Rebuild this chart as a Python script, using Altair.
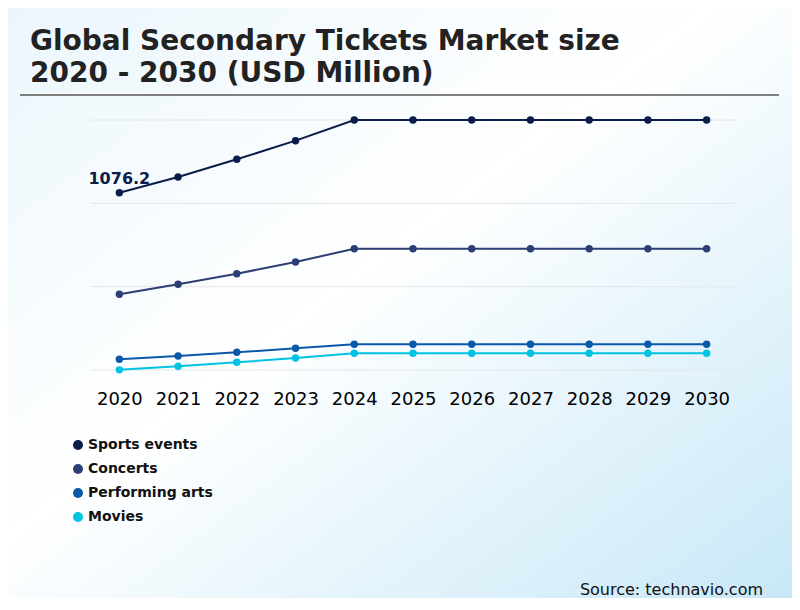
import altair as alt
import pandas as pd

# ---- data ----
years = ["2020", "2021", "2022", "2023", "2024", "2025", "2026", "2027", "2028", "2029", "2030"]
series_names = ["Sports events", "Concerts", "Performing arts", "Movies"]
sports = [1076.2, 1171.5, 1279.0, 1392.0, 1517.5, 1517.5, 1517.5, 1517.5, 1517.5, 1517.5, 1517.5]
concerts = [459.5, 520.0, 584.5, 655.6, 736.3, 736.3, 736.3, 736.3, 736.3, 736.3, 736.3]
performing = [65.0, 85.0, 107.4, 131.7, 156.0, 156.0, 156.0, 156.0, 156.0, 156.0, 156.0]
movies = [1.0, 22.5, 46.7, 72.8, 101.4, 101.4, 101.4, 101.4, 101.4, 101.4, 101.4]
series_colors = ["#0b1c48", "#2c3e73", "#0a58a8", "#00c3e3"]
grid_values = [0, 505.8, 1011.7, 1517.5]
title_lines = ["Global Secondary Tickets Market size", "2020 - 2030 (USD Million)"]
source_text = "Source: technavio.com"
first_label = "1076.2"

rows = []
for name, vals in zip(series_names, [sports, concerts, performing, movies]):
    for y, v in zip(years, vals):
        rows.append({"Year": y, "Segment": name, "Value": v})
df = pd.DataFrame(rows)
label_df = pd.DataFrame({"Year": [years[0]], "Value": [sports[0]], "Label": [first_label]})
grid_df = pd.DataFrame({"Value": grid_values})
one = pd.DataFrame({"a": [0]})

FONT = "DejaVu Sans"

x_enc = alt.X("Year:O", scale=alt.Scale(type="point", padding=0.5),
              axis=alt.Axis(title=None, labelAngle=0, labelFontSize=18, labelColor="#000000",
                            labelFont=FONT, ticks=False, domain=False, grid=False, labelPadding=20,
                            zindex=1))
y_scale = alt.Scale(domain=[0, 1517.5], nice=False, zero=True)
y_enc = alt.Y("Value:Q", scale=y_scale, axis=None)
color_enc = alt.Color("Segment:N",
                      scale=alt.Scale(domain=series_names, range=series_colors),
                      legend=alt.Legend(title=None, orient="none", legendX=-19, legendY=318,
                                        symbolType="circle", symbolSize=100, symbolStrokeWidth=0,
                                        labelFontSize=14, labelFontWeight="bold", labelFont=FONT,
                                        labelColor="#111111", labelOffset=3, rowPadding=10, padding=0,
                                        zindex=1))

bg = alt.Chart(one).mark_rect(
    fill=alt.Gradient(gradient="linear", x1=0, y1=0, x2=1, y2=1,
                      stops=[alt.GradientStop(offset=0, color="#ebf6fc"),
                             alt.GradientStop(offset=0.45, color="#ffffff"),
                             alt.GradientStop(offset=1, color="#c8e8f7")])
).encode(x=alt.value(-82), x2=alt.value(702), y=alt.value(-112), y2=alt.value(478))

grid = alt.Chart(grid_df).mark_rule(color="#e4e6e8", strokeWidth=1).encode(
    y=alt.Y("Value:Q", scale=y_scale, axis=None), x=alt.value(0), x2=alt.value(646))

lines = alt.Chart(df).mark_line(strokeWidth=2).encode(
    x=x_enc, y=y_enc, color=color_enc, order=alt.Order("Year:O"))
points = alt.Chart(df).mark_point(filled=True, size=55, opacity=1).encode(
    x=x_enc, y=y_enc, color=color_enc)

label = alt.Chart(label_df).mark_text(font=FONT, fontSize=16, fontWeight="bold", color="#0b1c48",
                                      baseline="alphabetic", align="center", dy=-9).encode(
    x=alt.X("Year:O"), y=alt.Y("Value:Q"), text="Label:N")

title = alt.Chart(one).mark_text(text=title_lines, font=FONT, fontSize=28, fontWeight="bold",
                                 color="#222222", align="left", baseline="alphabetic",
                                 lineHeight=32).encode(x=alt.value(-60), y=alt.value(-70))

sep = alt.Chart(one).mark_rule(color="#808080", strokeWidth=2).encode(
    x=alt.value(-70), x2=alt.value(689), y=alt.value(-25))

source = alt.Chart(one).mark_text(text=source_text, font=FONT, fontSize=16, color="#111111",
                                  align="right", baseline="alphabetic").encode(
    x=alt.value(673), y=alt.value(475))

chart = alt.layer(bg, grid, title, sep, lines, points, label, source).properties(
    width=646, height=250,
    padding={"left": 82, "top": 112, "right": 56, "bottom": 228},
    autosize=alt.AutoSizeParams(type="none"),
).configure_view(stroke=None).configure(background="#ffffff")

chart.save("out.html", embed_options={"renderer": "svg", "actions": False})
